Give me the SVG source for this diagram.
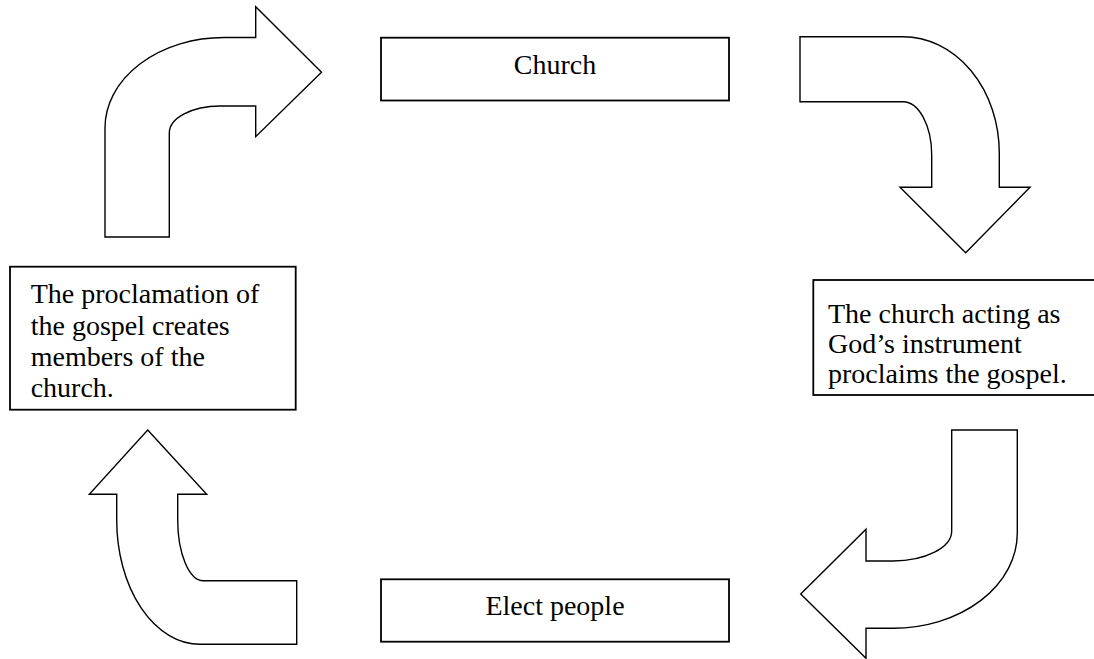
<svg xmlns="http://www.w3.org/2000/svg" width="1094" height="659" viewBox="0 0 1094 659">
<style>
.box{fill:#fff;stroke:#000;stroke-width:1.8}
.arr{fill:#fff;stroke:#000;stroke-width:1.4;stroke-linejoin:miter}
.t{font-family:"Liberation Serif","Times New Roman",serif;font-size:28px;fill:#000}
</style>
<rect width="1094" height="659" fill="#fff"/>
<g id="connectors">
<path id="arrow-top-left" class="arr" d="M105,237 L105,128 A119,90.5 0 0 1 224,37.5 L255.7,37.5 L255.7,6.7 L321.5,72.3 L255.7,136.7 L255.7,106 L220,106 A50.7,27 0 0 0 169.3,133 L169.3,237 Z"/>
<path id="arrow-top-right" class="arr" d="M800,36.7 L903,36.7 A96.3,116.3 0 0 1 999.3,153 L999.3,187.3 L1030,187.3 L965.7,252.7 L900,187.3 L931.7,187.3 L931.7,155 A28.7,53.3 0 0 0 903,101.7 L800,101.7 Z"/>
<path id="arrow-bottom-right" class="arr" d="M951.7,430 L1017.3,430 L1017.3,533 A124.3,95.3 0 0 1 893,628.3 L866,628.3 L866,658.3 L800.7,594 L866,529.3 L866,561 L893,561 A58.7,30 0 0 0 951.7,531 Z"/>
<path id="arrow-bottom-left" class="arr" d="M147.7,430 L206.7,494.3 L177.7,494.3 L177.7,520 A25.6,60.7 0 0 0 203.3,580.7 L296.7,580.7 L296.7,644.3 L200,644.3 A83.3,124.3 0 0 1 116.7,520 L116.7,494.3 L89.3,494.3 Z"/>
</g>
<g id="church">
<rect class="box" x="381" y="37.7" width="348" height="62.8"/>
<text class="t" x="555" y="74" text-anchor="middle">Church</text>
</g>
<g id="proclaims">
<rect class="box" x="813.3" y="280" width="290" height="115"/>
<text class="t" x="828" y="322.7">The church acting as</text>
<text class="t" x="828" y="353">God’s instrument</text>
<text class="t" x="828" y="383">proclaims the gospel.</text>
</g>
<g id="elect">
<rect class="box" x="381" y="579.3" width="348" height="62.4"/>
<text class="t" x="555" y="615" text-anchor="middle">Elect people</text>
</g>
<g id="creates">
<rect class="box" x="10" y="266.7" width="285.7" height="143"/>
<text class="t" x="30.7" y="303.3">The proclamation of</text>
<text class="t" x="30.7" y="335">the gospel creates</text>
<text class="t" x="30.7" y="366">members of the</text>
<text class="t" x="30.7" y="397">church.</text>
</g>
</svg>
